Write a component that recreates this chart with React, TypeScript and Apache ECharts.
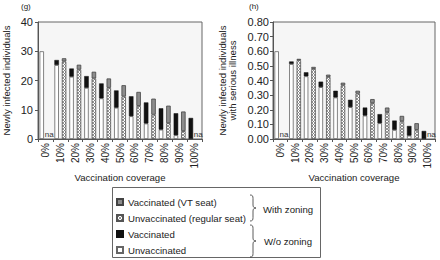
import React, { useEffect, useRef } from "react";
import * as echarts from "echarts";

const categories = ["0%", "10%", "20%", "30%", "40%", "50%", "60%", "70%", "80%", "90%", "100%"];

// Panel (g): newly infected individuals (segment values, null = not drawn / na)
const gWoUnvaccinated = [30, 25.3, 21.3, 17.5, 13.9, 10.7, 7.8, 5.3, 3.2, 1.3, null];
const gWoVaccinated = [null, 1.7, 2.8, 4.0, 5.1, 5.9, 6.8, 7.2, 7.3, 7.5, 7.2];
const gZoneUnvaccinated = [null, 26.5, 23.7, 20.7, 17.5, 14.5, 11.3, 8.3, 5.4, 2.7, null];
const gZoneVaccinated = [null, 1.1, 1.7, 2.3, 3.2, 3.9, 4.8, 5.5, 6.0, 6.7, null];

// Panel (h): newly infected individuals with serious illness
const hWoUnvaccinated = [0.6, 0.513, 0.429, 0.355, 0.284, 0.218, 0.16, 0.108, 0.062, 0.023, null];
const hWoVaccinated = [null, 0.017, 0.027, 0.037, 0.046, 0.05, 0.055, 0.062, 0.064, 0.066, 0.055];
const hZoneUnvaccinated = [null, 0.539, 0.479, 0.424, 0.367, 0.31, 0.245, 0.184, 0.122, 0.062, null];
const hZoneVaccinated = [null, 0.009, 0.014, 0.016, 0.018, 0.02, 0.028, 0.031, 0.036, 0.046, null];

const naCategories = ["0%", "100%"];
const naText = "na";

const legendNames = ["Vaccinated (VT seat)", "Unvaccinated (regular seat)", "Vaccinated", "Unvaccinated"];
const groupLabels = ["With zoning", "W/o zoning"];
const panelLabels = ["(g)", "(h)"];
const yNames = ["Newly infected individuals", "Newly infected individuals\nwith serious illness"];
const xName = "Vaccination coverage";

const FONT = "'Liberation Sans', Arial, Helvetica, sans-serif";
const TEXT = "#222";

function braceD(h: number) {
  const m = h / 2;
  return `M0,0 C2.5,0 3,1 3,3.5 L3,${m - 3} C3,${m - 1} 4,${m} 6,${m} C4,${m} 3,${m + 1} 3,${m + 3} L3,${h - 3.5} C3,${h - 1} 2.5,${h} 0,${h}`;
}

let registered = false;
function registerShapes() {
  if (registered) return;
  echarts.graphic.registerShape("braceA", echarts.graphic.extendPath(braceD(26), {}) as any);
  echarts.graphic.registerShape("braceB", echarts.graphic.extendPath(braceD(32), {}) as any);
  registered = true;
}

const crossSvg =
  "<svg xmlns='http://www.w3.org/2000/svg' width='3' height='3'>" +
  "<rect width='3' height='3' fill='#ffffff'/>" +
  "<path d='M0,0L3,3M3,0L0,3' stroke='#7a7a7a' stroke-width='0.8'/>" +
  "</svg>";
const crossPattern = {
  image: "data:image/svg+xml;charset=utf-8," + encodeURIComponent(crossSvg),
  repeat: "repeat",
  imageWidth: 3,
  imageHeight: 3,
};

function panelSeries(idx: number, woU: (number | null)[], woV: (number | null)[], zU: (number | null)[], zV: (number | null)[]) {
  const common = {
    type: "bar",
    xAxisIndex: idx,
    yAxisIndex: idx,
    barWidth: 4.5,
    barGap: "65%",
  };
  const zoneUData = zU.map((v, i) =>
    naCategories.includes(categories[i])
      ? {
          value: 0,
          itemStyle: { borderWidth: 0 },
          label: {
            show: true,
            position: "top",
            distance: 1,
            formatter: naText,
            fontSize: 8,
            color: "#333",
            fontFamily: FONT,
          },
        }
      : v
  );
  return [
    {
      ...common,
      name: "Unvaccinated",
      stack: "wo" + idx,
      data: woU,
      itemStyle: { color: "#ffffff", borderColor: "#666", borderWidth: 0.8 },
    },
    {
      ...common,
      name: "Vaccinated",
      stack: "wo" + idx,
      data: woV,
      itemStyle: { color: "#111111", borderColor: "#111", borderWidth: 0.5 },
    },
    {
      ...common,
      name: "Unvaccinated (regular seat)",
      stack: "z" + idx,
      data: zoneUData,
      itemStyle: { color: crossPattern, borderColor: "#555", borderWidth: 0.8 },
    },
    {
      ...common,
      name: "Vaccinated (VT seat)",
      stack: "z" + idx,
      data: zV,
      itemStyle: { color: "#8c8c8c", borderColor: "#444", borderWidth: 0.8 },
    },
  ];
}

function xAxisFor(idx: number) {
  return {
    type: "category",
    gridIndex: idx,
    data: categories,
    boundaryGap: true,
    name: xName,
    nameLocation: "middle",
    nameGap: 32,
    nameTextStyle: { fontSize: 9.6, color: TEXT, fontFamily: FONT },
    axisLine: { show: true, lineStyle: { color: "#555", width: 1 } },
    axisTick: { show: true, length: 3, interval: 0, lineStyle: { color: "#555" } },
    axisLabel: { rotate: 90, interval: 0, fontSize: 10, margin: 4, color: TEXT, fontFamily: FONT },
    splitLine: { show: false },
  };
}

export default function App() {
  const ref = useRef<HTMLDivElement>(null);
  useEffect(() => {
    if (!ref.current) return;
    registerShapes();
    const chart = echarts.init(ref.current, undefined, { renderer: "svg" });
    chart.setOption({
      animation: false,
      backgroundColor: "#ffffff",
      textStyle: { fontFamily: FONT },
      grid: [
        { left: 38, top: 22, width: 164, height: 117, show: true, backgroundColor: "#f6f6f6", borderColor: "#666", borderWidth: 1 },
        { left: 273, top: 22, width: 162, height: 117, show: true, backgroundColor: "#f6f6f6", borderColor: "#666", borderWidth: 1 },
      ],
      xAxis: [xAxisFor(0), xAxisFor(1)],
      yAxis: [
        {
          type: "value",
          gridIndex: 0,
          min: 0,
          max: 40,
          interval: 10,
          name: yNames[0],
          nameLocation: "middle",
          nameGap: 27,
          nameTextStyle: { fontSize: 9.6, color: TEXT, fontFamily: FONT },
          axisLine: { show: true, lineStyle: { color: "#555" } },
          axisTick: { show: true, length: 3, lineStyle: { color: "#555" } },
          axisLabel: { fontSize: 11, margin: 5, color: TEXT, fontFamily: FONT },
          splitLine: { show: false },
        },
        {
          type: "value",
          gridIndex: 1,
          min: 0,
          max: 0.8,
          interval: 0.1,
          name: yNames[1],
          nameLocation: "middle",
          nameGap: 36,
          nameTextStyle: { fontSize: 9.6, lineHeight: 10, color: TEXT, fontFamily: FONT },
          axisLine: { show: true, lineStyle: { color: "#555" } },
          axisTick: { show: true, length: 3, lineStyle: { color: "#555" } },
          axisLabel: {
            fontSize: 11,
            margin: 4,
            color: TEXT,
            fontFamily: FONT,
            formatter: (v: number) => v.toFixed(2),
          },
          splitLine: { show: false },
        },
      ],
      legend: {
        data: legendNames,
        orient: "vertical",
        left: 116,
        top: 196,
        padding: 0,
        itemWidth: 6,
        itemHeight: 6,
        itemGap: 4,
        icon: "rect",
        selectedMode: false,
        textStyle: { fontSize: 9.6, lineHeight: 12, color: TEXT, fontFamily: FONT },
      },
      graphic: [
        {
          type: "text",
          left: 21,
          top: 2,
          style: { text: panelLabels[0], fontSize: 8, fill: TEXT, fontFamily: FONT },
        },
        {
          type: "text",
          left: 249,
          top: 2,
          style: { text: panelLabels[1], fontSize: 8, fill: TEXT, fontFamily: FONT },
        },
        {
          type: "rect",
          z: -1,
          shape: { x: 112.5, y: 187.5, width: 208, height: 70 },
          style: { fill: "none", stroke: "#666", lineWidth: 1 },
        },
        {
          type: "braceA",
          x: 250,
          y: 195,
          style: { fill: "none", stroke: "#333", lineWidth: 0.8 },
        },
        {
          type: "braceB",
          x: 250,
          y: 225,
          style: { fill: "none", stroke: "#333", lineWidth: 0.8 },
        },
        {
          type: "text",
          x: 263,
          y: 209,
          style: { text: groupLabels[0], fontSize: 9.6, fill: TEXT, fontFamily: FONT, verticalAlign: "middle" },
        },
        {
          type: "text",
          x: 264,
          y: 241.5,
          style: { text: groupLabels[1], fontSize: 9.6, fill: TEXT, fontFamily: FONT, verticalAlign: "middle" },
        },
      ],
      series: [
        ...panelSeries(0, gWoUnvaccinated, gWoVaccinated, gZoneUnvaccinated, gZoneVaccinated),
        ...panelSeries(1, hWoUnvaccinated, hWoVaccinated, hZoneUnvaccinated, hZoneVaccinated),
      ],
    } as any);
    return () => chart.dispose();
  }, []);
  return (
    <div
      ref={ref}
      style={{ position: "absolute", left: 0, top: 0, width: 440, height: 260, background: "#fff" }}
    />
  );
}
